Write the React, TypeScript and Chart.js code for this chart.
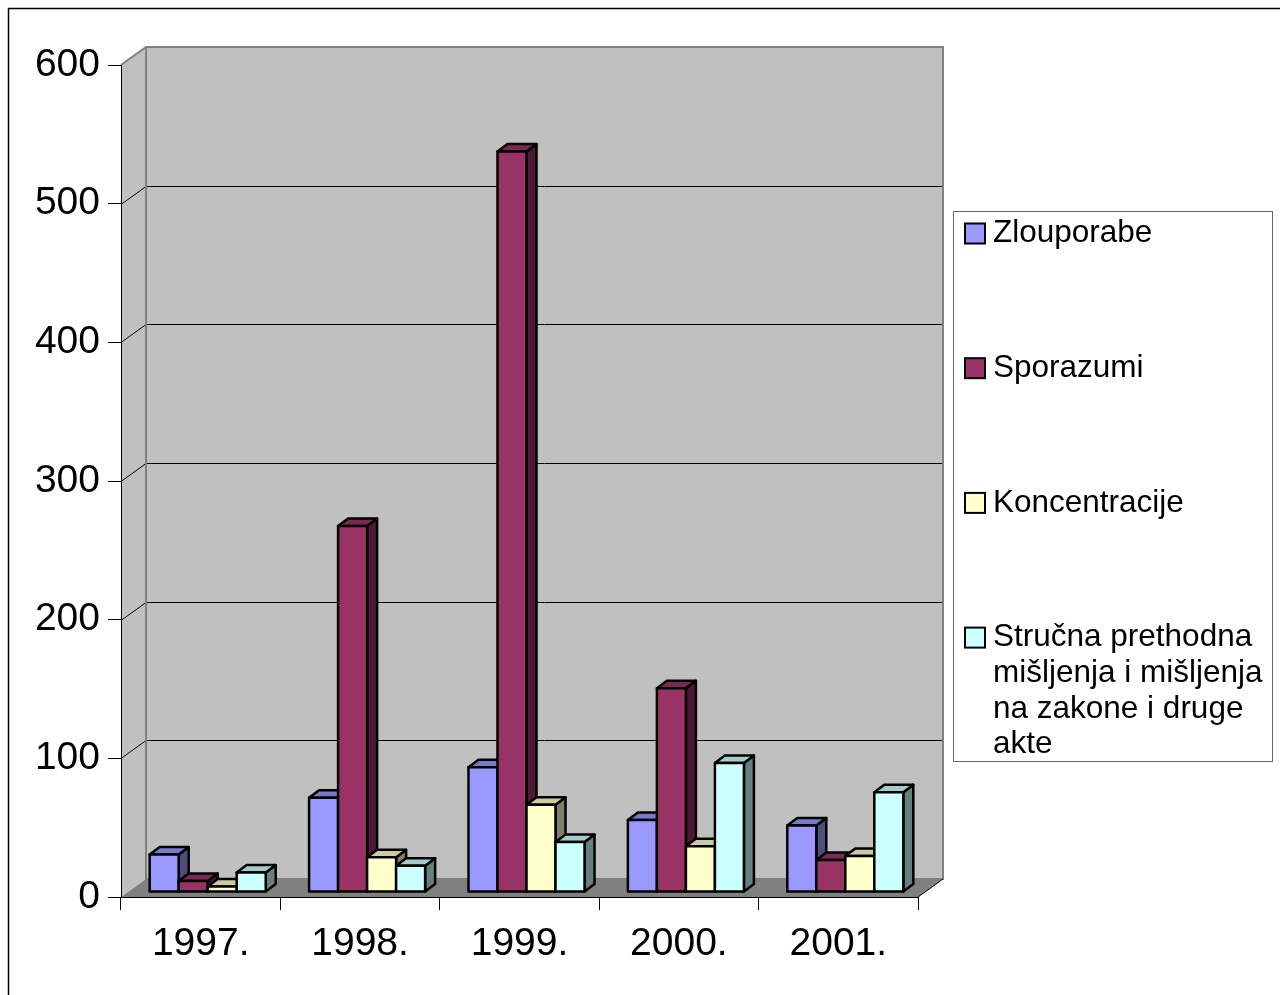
import React, { useEffect, useRef } from "react";
import { Chart, registerables } from "chart.js";

Chart.register(...registerables);

const categories = ["1997.", "1998.", "1999.", "2000.", "2001."];
const seriesNames = [
  "Zlouporabe",
  "Sporazumi",
  "Koncentracije",
  "Stručna prethodna mišljenja i mišljenja na zakone i druge akte",
];
const zlouporabe = [27, 68, 90, 52, 48];
const sporazumi = [8, 264, 534, 147, 23];
const koncentracije = [4, 25, 63, 33, 26];
const strucna = [14, 19, 36, 93, 72];
const legendLines = [
  ["Zlouporabe"],
  ["Sporazumi"],
  ["Koncentracije"],
  ["Stručna prethodna", "mišljenja i mišljenja", "na zakone i druge", "akte"],
];
const frontColors = ["#9999FF", "#993366", "#FFFFCC", "#CCFFFF"];

const FONT = '"Liberation Sans", Arial, sans-serif';
const WALL_DX = 25;
const WALL_DY = 18;
const BAR_SX = 7;
const BAR_SY = -5;
const BAR_DX = 10;
const BAR_DY = 7.5;

function shade(hex: string, f: number) {
  const n = parseInt(hex.slice(1), 16);
  const r = Math.round(((n >> 16) & 255) * f);
  const g = Math.round(((n >> 8) & 255) * f);
  const b = Math.round((n & 255) * f);
  return `rgb(${r},${g},${b})`;
}

function poly(ctx: CanvasRenderingContext2D, pts: number[][], fill: string | null, stroke: string | null, lw = 1) {
  ctx.beginPath();
  ctx.moveTo(pts[0][0], pts[0][1]);
  for (let i = 1; i < pts.length; i++) ctx.lineTo(pts[i][0], pts[i][1]);
  ctx.closePath();
  if (fill) {
    ctx.fillStyle = fill;
    ctx.fill();
  }
  if (stroke) {
    ctx.strokeStyle = stroke;
    ctx.lineWidth = lw;
    ctx.stroke();
  }
}

function prism(ctx: CanvasRenderingContext2D, x0: number, x1: number, yt: number, yb: number, color: string) {
  ctx.lineJoin = "round";
  const lw = 2.5;
  poly(ctx, [[x1, yt], [x1 + BAR_DX, yt - BAR_DY], [x1 + BAR_DX, yb - BAR_DY], [x1, yb]], shade(color, 0.5), "#000", lw);
  poly(ctx, [[x0, yt], [x1, yt], [x1 + BAR_DX, yt - BAR_DY], [x0 + BAR_DX, yt - BAR_DY]], shade(color, 0.8), "#000", lw);
  poly(ctx, [[x0, yt], [x1, yt], [x1, yb], [x0, yb]], color, "#000", lw);
}

const scenePlugin = {
  id: "scene3d",
  beforeDraw(chart: any) {
    const ctx: CanvasRenderingContext2D = chart.ctx;
    const { left, right, top, bottom } = chart.chartArea;
    const ys = chart.scales.y;
    ctx.save();
    ctx.fillStyle = "#fff";
    ctx.fillRect(0, 0, chart.width, chart.height);
    // outer frame
    ctx.strokeStyle = "#000";
    ctx.lineWidth = 1.5;
    ctx.beginPath();
    ctx.moveTo(8.5, chart.height);
    ctx.lineTo(8.5, 8.5);
    ctx.lineTo(chart.width, 8.5);
    ctx.stroke();
    // back wall
    ctx.fillStyle = "#C0C0C0";
    ctx.fillRect(left + WALL_DX, top - WALL_DY, right - left, bottom - top);
    // left wall
    poly(ctx, [[left, top], [left + WALL_DX, top - WALL_DY], [left + WALL_DX, bottom - WALL_DY], [left, bottom]], "#C0C0C0", null);
    // gridlines
    const ticks = ys.ticks.map((t: any) => t.value);
    ctx.strokeStyle = "#000";
    ctx.lineWidth = 1;
    for (const v of ticks) {
      if (v <= ys.min || v >= ys.max) continue;
      const py = Math.round(ys.getPixelForValue(v)) + 0.5;
      ctx.beginPath();
      ctx.moveTo(left, py);
      ctx.lineTo(left + WALL_DX, py - WALL_DY);
      ctx.lineTo(right + WALL_DX, py - WALL_DY);
      ctx.stroke();
    }
    // wall borders
    ctx.strokeStyle = "#808080";
    ctx.lineWidth = 2;
    ctx.strokeRect(left + WALL_DX, top - WALL_DY, right - left, bottom - top);
    ctx.beginPath();
    ctx.moveTo(left, top);
    ctx.lineTo(left + WALL_DX, top - WALL_DY);
    ctx.stroke();
    // floor
    poly(ctx, [[left, bottom], [left + WALL_DX, bottom - WALL_DY], [right + WALL_DX, bottom - WALL_DY], [right, bottom]], "#808080", null);
    ctx.strokeStyle = "#000";
    ctx.lineWidth = 1;
    ctx.beginPath();
    ctx.moveTo(right, bottom);
    ctx.lineTo(right + WALL_DX, bottom - WALL_DY);
    ctx.stroke();
    ctx.restore();
  },
  beforeDatasetsDraw(chart: any) {
    const ctx: CanvasRenderingContext2D = chart.ctx;
    ctx.save();
    const n = chart.data.labels.length;
    for (let j = 0; j < n; j++) {
      for (let i = 0; i < chart.data.datasets.length; i++) {
        const meta = chart.getDatasetMeta(i);
        const el = meta.data[j];
        if (!el) continue;
        const p = el.getProps(["x", "y", "base", "width"], true);
        const x0 = p.x - p.width / 2 + BAR_SX;
        const x1 = p.x + p.width / 2 + BAR_SX;
        prism(ctx, x0, x1, p.y + BAR_SY, p.base + BAR_SY, frontColors[i]);
      }
    }
    ctx.restore();
    return false;
  },
  afterDraw(chart: any) {
    const ctx: CanvasRenderingContext2D = chart.ctx;
    ctx.save();
    // legend box
    ctx.strokeStyle = "#666";
    ctx.lineWidth = 1;
    ctx.strokeRect(953.5, 211.5, 319, 550);
    ctx.font = `31.5px ${FONT}`;
    ctx.textBaseline = "middle";
    ctx.textAlign = "left";
    for (let i = 0; i < legendLines.length; i++) {
      const y0 = 233.5 + i * 134.7;
      ctx.fillStyle = frontColors[i];
      ctx.fillRect(965, y0 - 10, 20, 20);
      ctx.strokeStyle = "#000";
      ctx.lineWidth = 2;
      ctx.strokeRect(965, y0 - 10, 20, 20);
      ctx.fillStyle = "#000";
      legendLines[i].forEach((line, k) => {
        ctx.fillText(line, 993, y0 + k * 35.7);
      });
    }
    ctx.restore();
  },
};

export default function App() {
  const ref = useRef<HTMLCanvasElement | null>(null);
  useEffect(() => {
    if (!ref.current) return;
    const chart = new Chart(ref.current, {
      type: "bar",
      data: {
        labels: categories,
        datasets: [zlouporabe, sporazumi, koncentracije, strucna].map((d, i) => ({
          label: seriesNames[i],
          data: d,
          backgroundColor: frontColors[i],
          borderColor: "#000",
          borderWidth: 2,
          categoryPercentage: 0.728,
          barPercentage: 1,
        })),
      },
      options: {
        animation: false,
        responsive: false,
        devicePixelRatio: 1,
        layout: { padding: { left: 0, top: 65, right: 362, bottom: 0 } },
        plugins: { legend: { display: false }, tooltip: { enabled: false } },
        scales: {
          x: {
            offset: true,
            grid: { offset: true, drawOnChartArea: false, drawTicks: true, tickLength: 13, color: "#000", lineWidth: 1 },
            border: { display: true, color: "#000", width: 1 },
            ticks: { color: "#000", font: { family: FONT, size: 39 }, padding: 11, maxRotation: 0 },
            afterFit: (s: any) => {
              s.height = 98;
            },
          },
          y: {
            min: 0,
            max: 600,
            ticks: { stepSize: 100, color: "#000", font: { family: FONT, size: 39, lineHeight: 1.1 }, padding: 8 },
            grid: { drawOnChartArea: false, drawTicks: true, tickLength: 13, color: "#000", lineWidth: 1 },
            border: { display: true, color: "#000", width: 1 },
            afterFit: (s: any) => {
              s.width = 121;
            },
          },
        },
      },
      plugins: [scenePlugin],
    });
    return () => chart.destroy();
  }, []);
  return (
    <div style={{ position: "fixed", left: 0, top: 0, width: 1280, height: 995, background: "#fff" }}>
      <canvas ref={ref} width={1280} height={995} style={{ display: "block", width: 1280, height: 995 }} />
    </div>
  );
}
